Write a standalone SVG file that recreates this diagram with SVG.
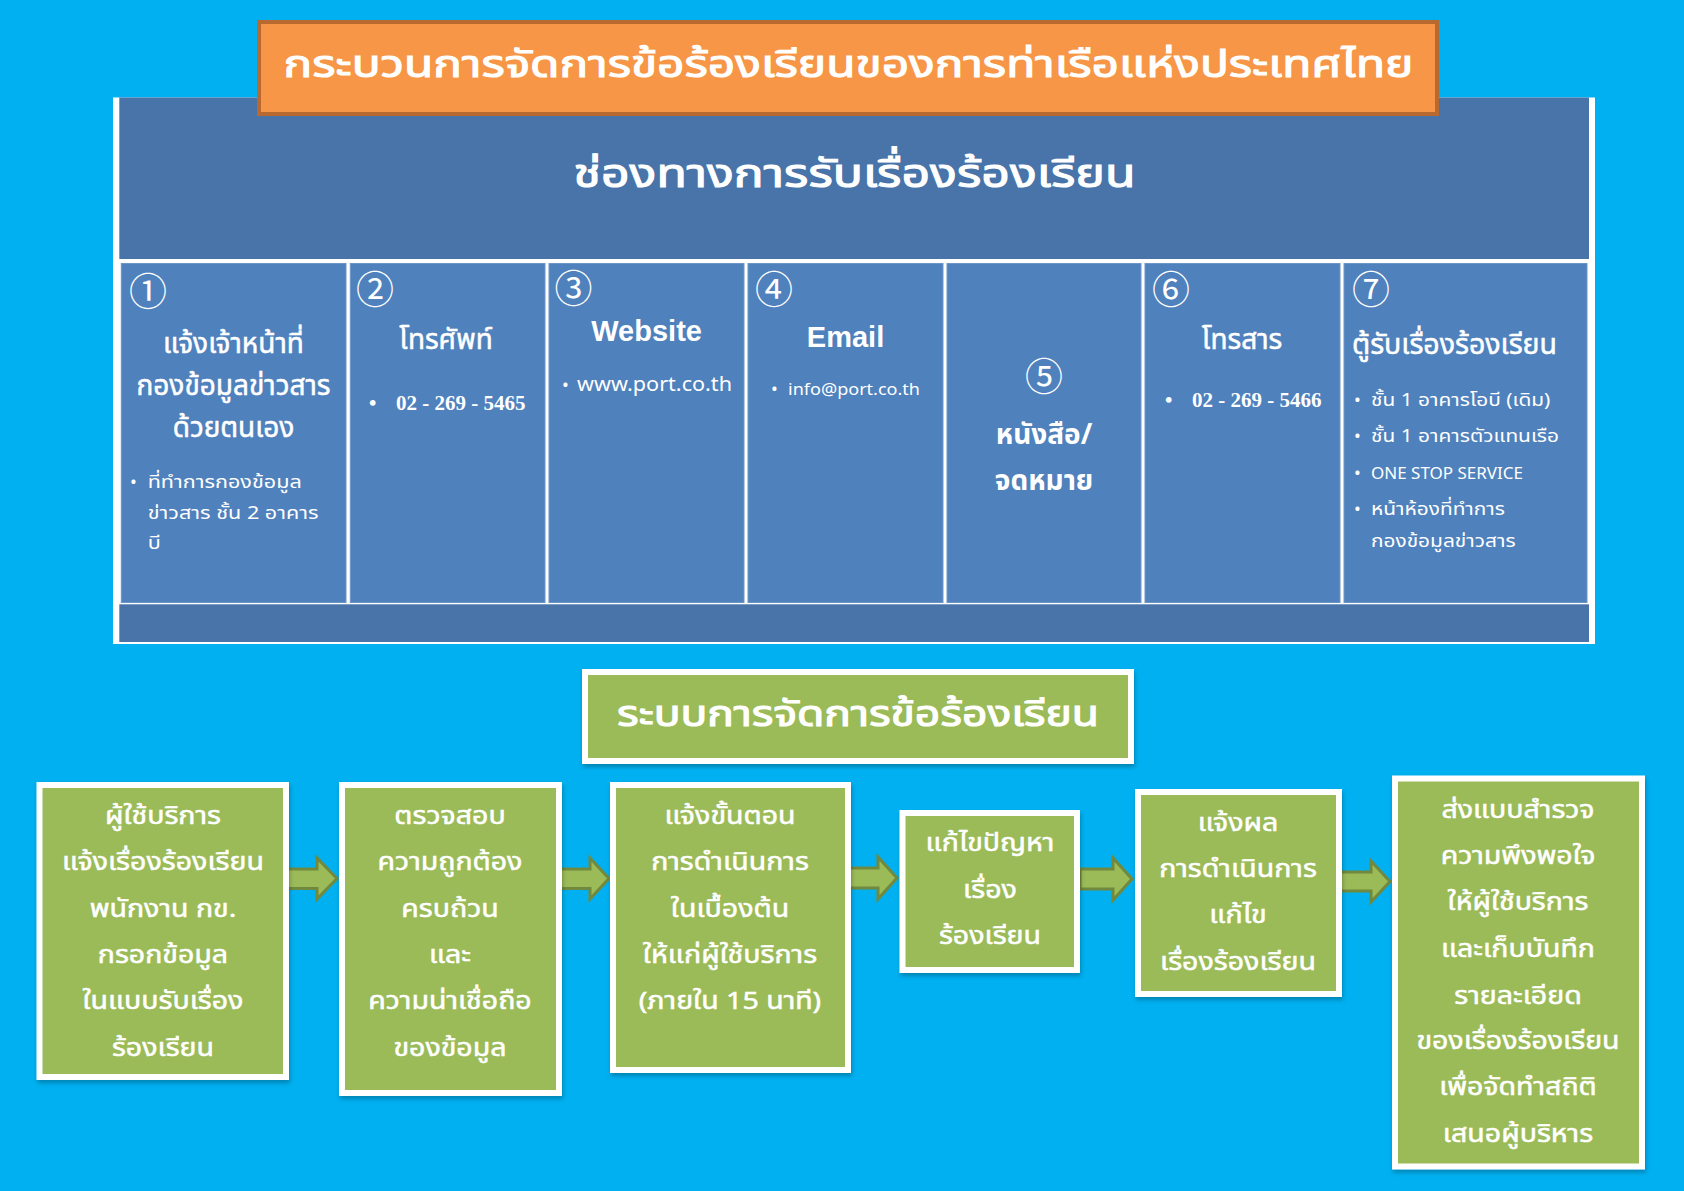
<svg xmlns="http://www.w3.org/2000/svg" width="1684" height="1191" viewBox="0 0 1684 1191">
<defs>
<style>
.th{font-family:"Noto Sans Thai","Noto Sans Thai Looped","Noto Serif Thai","Noto Sans","DejaVu Sans",sans-serif;fill:#fff}
.c{text-anchor:middle}
.semi{stroke:#fff;stroke-width:1.1px}
.semi2{stroke:#fff;stroke-width:0.5px}
.num{font-family:"Noto Sans CJK JP","DejaVu Serif",serif;fill:#fff;font-size:38px;text-anchor:middle;dominant-baseline:central}
.cell{fill:#4F81BD;stroke:#6E95C8;stroke-width:1}
.gbox{fill:#9BBB59;stroke:#fff;stroke-width:6;filter:url(#sh)}
.arrow{fill:#9BBB59;stroke:#71893F;stroke-width:3;stroke-linejoin:miter}
.box-t{font-size:24px}
.bul{font-size:18px}
.ct{font-size:28px}
.ser{font-family:"Liberation Serif","Times New Roman",serif;font-weight:bold;fill:#fff;font-size:21px}
.en{font-family:"Liberation Sans",Arial,sans-serif;font-weight:bold;fill:#fff;font-size:29px;text-anchor:middle}
</style>
<filter id="sh" x="-10%" y="-10%" width="120%" height="120%">
<feDropShadow dx="1" dy="3" stdDeviation="2" flood-color="#000" flood-opacity="0.25"/>
</filter>
</defs>
<rect x="0" y="0" width="1684" height="1191" fill="#00B0F0"/>

<g id="channel-panel">
<rect x="113" y="97.5" width="1482" height="546.5" fill="#fff"/>
<rect x="119.3" y="97.5" width="1469.7" height="161.5" fill="#4874AA"/>
<rect x="119.3" y="604.3" width="1469.7" height="37.7" fill="#4874AA"/>
<text class="th semi" x="573.5" y="187" font-size="40" textLength="562" lengthAdjust="spacingAndGlyphs">ช่องทางการรับเรื่องร้องเรียน</text>
</g>

<g id="title">
<rect x="259" y="22" width="1178" height="92" fill="#F79646" stroke="#B7692F" stroke-width="4"/>
<text class="th semi" x="283.5" y="77" font-size="38" textLength="1130" lengthAdjust="spacingAndGlyphs">กระบวนการจัดการข้อร้องเรียนของการท่าเรือแห่งประเทศไทย</text>
</g>

<g id="cell1">
<rect class="cell" x="121.3" y="263.5" width="224.7" height="339"/>
<text class="num" x="148" y="288">①</text>
<text class="th c ct semi2" x="233.5" y="353">แจ้งเจ้าหน้าที่</text>
<text class="th c ct semi2" x="233.5" y="395">กองข้อมูลข่าวสาร</text>
<text class="th c ct semi2" x="233.5" y="437">ด้วยตนเอง</text>
<text class="th bul" x="130" y="488">•</text>
<g transform="matrix(1.2 0 0 1 -29.54 0)">
<text class="th bul" x="147.7" y="488">ที่ทำการกองข้อมูล</text>
<text class="th bul" x="147.7" y="519">ข่าวสาร ชั้น 2 อาคาร</text>
<text class="th bul" x="147.7" y="549">บี</text>
</g>
</g>

<g id="cell2">
<rect class="cell" x="350.3" y="263.5" width="194.7" height="339"/>
<text class="num" x="375" y="286">②</text>
<text class="th c ct semi2" x="446" y="349">โทรศัพท์</text>
<text class="ser" x="369" y="410">•</text>
<text class="ser" x="396" y="410">02 - 269 - 5465</text>
</g>

<g id="cell3">
<rect class="cell" x="549" y="263.5" width="195" height="339"/>
<text class="num" x="573.5" y="285">③</text>
<text class="en" x="646.6" y="341">Website</text>
<text class="th bul" x="562" y="391">•</text>
<text class="th" x="577" y="391" font-size="19" textLength="155" lengthAdjust="spacingAndGlyphs">www.port.co.th</text>
</g>

<g id="cell4">
<rect class="cell" x="748" y="263.5" width="195" height="339"/>
<text class="num" x="774" y="286.6">④</text>
<text class="en" x="845.5" y="347">Email</text>
<text class="th bul" x="771" y="395">•</text>
<text class="th" x="788" y="395" font-size="17" textLength="132" lengthAdjust="spacingAndGlyphs">info@port.co.th</text>
</g>

<g id="cell5">
<rect class="cell" x="947" y="263.5" width="194" height="339"/>
<text class="num" x="1044" y="373">⑤</text>
<text class="th c ct" x="1044" y="443.7" font-weight="bold">หนังสือ/</text>
<text class="th c ct" x="1044" y="490" font-weight="bold">จดหมาย</text>
</g>

<g id="cell6">
<rect class="cell" x="1145" y="263.5" width="195" height="339"/>
<text class="num" x="1171" y="286">⑥</text>
<text class="th c ct semi2" x="1242" y="349">โทรสาร</text>
<text class="ser" x="1165" y="407">•</text>
<text class="ser" x="1192" y="407">02 - 269 - 5466</text>
</g>

<g id="cell7">
<rect class="cell" x="1344" y="263.5" width="243" height="339"/>
<text class="num" x="1371" y="286.6">⑦</text>
<text class="th ct semi2" x="1352" y="354" textLength="205" lengthAdjust="spacingAndGlyphs">ตู้รับเรื่องร้องเรียน</text>
<text class="th bul" x="1354" y="405.6">•</text>
<text class="th bul" x="1354" y="442">•</text>
<text class="th bul" x="1354" y="479">•</text>
<text class="th bul" x="1354" y="515">•</text>
<text class="th" x="1371" y="479" font-size="17">ONE STOP SERVICE</text>
<g transform="matrix(1.16 0 0 1 -219.36 0)">
<text class="th bul" x="1371" y="405.6">ชั้น 1 อาคารโอบี (เดิม)</text>
<text class="th bul" x="1371" y="442">ชั้น 1 อาคารตัวแทนเรือ</text>
<text class="th bul" x="1371" y="515">หน้าห้องที่ทำการ</text>
<text class="th bul" x="1371" y="546.6">กองข้อมูลข่าวสาร</text>
</g>
</g>

<g id="system-title">
<rect class="gbox" x="585" y="672" width="546" height="89"/>
<text class="th semi" x="617" y="726" font-size="35" textLength="482" lengthAdjust="spacingAndGlyphs">ระบบการจัดการข้อร้องเรียน</text>
</g>

<g id="connectors">
<path class="arrow" d="M286,869 H317 V858 L337,878.5 L317,899 V888.5 H286 Z"/>
<path class="arrow" d="M557,869 H590 V858 L609,878.5 L590,899 V888.5 H557 Z"/>
<path class="arrow" d="M846,868 H878 V857 L897,878 L878,899 V888 H846 Z"/>
<path class="arrow" d="M1080,869 H1113 V858 L1132,879 L1113,900 V889 H1080 Z"/>
<path class="arrow" d="M1339,872 H1371 V861 L1390,881.5 L1371,902 V891 H1339 Z"/>
</g>

<g id="step1">
<rect class="gbox" x="39.5" y="785" width="246.5" height="292"/>
<g class="th c box-t semi2" transform="matrix(1.19 0 0 1 -30.97 0)">
<text x="163" y="824">ผู้ใช้บริการ</text>
<text x="163" y="870">แจ้งเรื่องร้องเรียน</text>
<text x="163" y="917">พนักงาน กข.</text>
<text x="163" y="963">กรอกข้อมูล</text>
<text x="163" y="1009">ในแบบรับเรื่อง</text>
<text x="163" y="1056">ร้องเรียน</text>
</g>
</g>

<g id="step2">
<rect class="gbox" x="342" y="785" width="217" height="308"/>
<g class="th c box-t semi2" transform="matrix(1.19 0 0 1 -85.5 0)">
<text x="450" y="824">ตรวจสอบ</text>
<text x="450" y="870">ความถูกต้อง</text>
<text x="450" y="917">ครบถ้วน</text>
<text x="450" y="963">และ</text>
<text x="450" y="1009">ความน่าเชื่อถือ</text>
<text x="450" y="1056">ของข้อมูล</text>
</g>
</g>

<g id="step3">
<rect class="gbox" x="613" y="785" width="235" height="285"/>
<g class="th c box-t semi2" transform="matrix(1.19 0 0 1 -138.7 0)">
<text x="730" y="824">แจ้งขั้นตอน</text>
<text x="730" y="870">การดำเนินการ</text>
<text x="730" y="917">ในเบื้องต้น</text>
<text x="730" y="963">ให้แก่ผู้ใช้บริการ</text>
<text x="730" y="1009">(ภายใน 15 นาที)</text>
</g>
</g>

<g id="step4">
<rect class="gbox" x="902.5" y="813" width="174.5" height="157"/>
<g class="th c box-t semi2" transform="matrix(1.19 0 0 1 -188.1 0)">
<text x="990" y="851">แก้ไขปัญหา</text>
<text x="990" y="898">เรื่อง</text>
<text x="990" y="944">ร้องเรียน</text>
</g>
</g>

<g id="step5">
<rect class="gbox" x="1138" y="792" width="201" height="202"/>
<g class="th c box-t semi2" transform="matrix(1.19 0 0 1 -235.22 0)">
<text x="1238" y="831">แจ้งผล</text>
<text x="1238" y="877">การดำเนินการ</text>
<text x="1238" y="923">แก้ไข</text>
<text x="1238" y="970">เรื่องร้องเรียน</text>
</g>
</g>

<g id="step6">
<rect class="gbox" x="1395" y="778.5" width="247" height="388"/>
<g class="th c box-t semi2" transform="matrix(1.19 0 0 1 -288.42 0)">
<text x="1518" y="818">ส่งแบบสำรวจ</text>
<text x="1518" y="864">ความพึงพอใจ</text>
<text x="1518" y="910.5">ให้ผู้ใช้บริการ</text>
<text x="1518" y="957">และเก็บบันทึก</text>
<text x="1518" y="1004">รายละเอียด</text>
<text x="1518" y="1049">ของเรื่องร้องเรียน</text>
<text x="1518" y="1095">เพื่อจัดทำสถิติ</text>
<text x="1518" y="1142.5">เสนอผู้บริหาร</text>
</g>
</g>
</svg>
